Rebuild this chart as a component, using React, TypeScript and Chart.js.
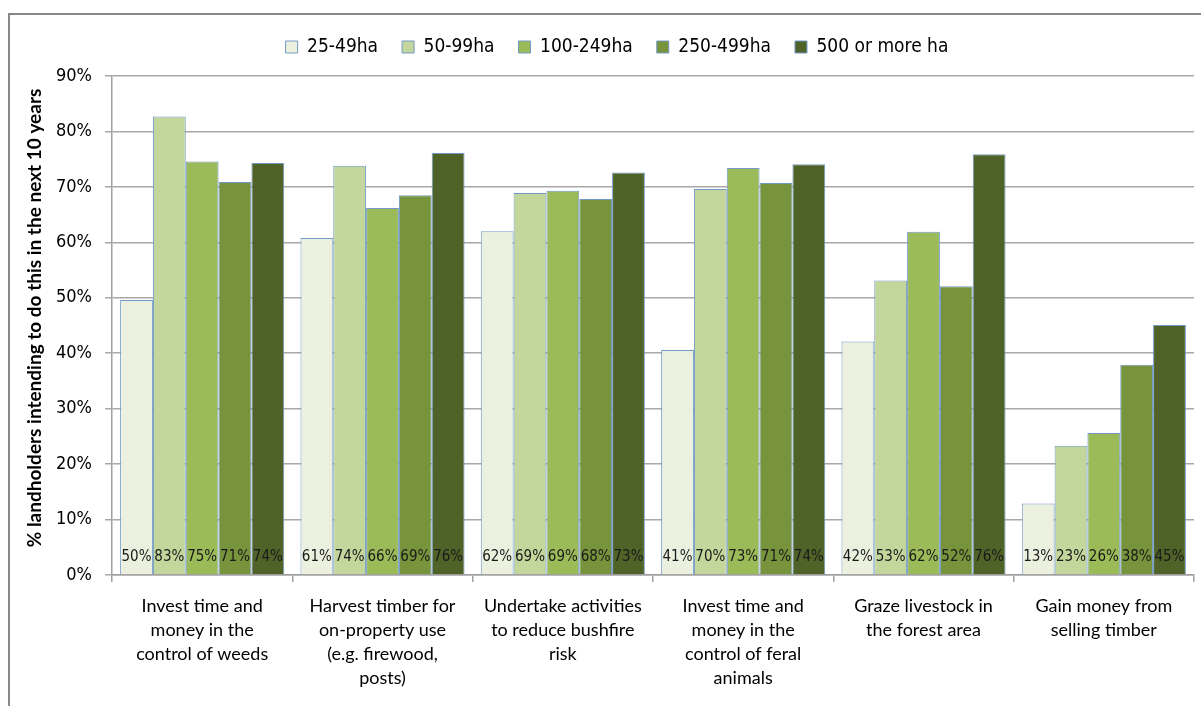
import React, { useEffect, useRef } from "react";
import { Chart, registerables } from "chart.js";

Chart.register(...registerables);

const categories: string[][] = [
  ["Invest time and", "money in the", "control of weeds"],
  ["Harvest timber for", "on-property use", "(e.g. firewood,", "posts)"],
  ["Undertake activities", "to reduce bushfire", "risk"],
  ["Invest time and", "money in the", "control of feral", "animals"],
  ["Graze livestock in", "the forest area"],
  ["Gain money from", "selling timber"],
];

const seriesNames = ["25-49ha", "50-99ha", "100-249ha", "250-499ha", "500 or more ha"];

const ha25to49 = [49.6, 60.8, 62.0, 40.6, 42.1, 12.9];
const ha50to99 = [82.7, 73.8, 68.9, 69.6, 53.1, 23.3];
const ha100to249 = [74.6, 66.2, 69.3, 73.4, 61.9, 25.6];
const ha250to499 = [70.9, 68.5, 67.8, 70.7, 52.1, 37.9];
const ha500plus = [74.3, 76.1, 72.6, 74.1, 75.9, 45.1];

const seriesColors = ["#EBF1DE", "#C3D69B", "#9BBB59", "#77933C", "#4F6228"];

const yMin = 0;
const yMax = 90;
const yStep = 10;

const yTitle = "% landholders intending to do this in the next 10 years";

const COND = "'DejaVu Sans Condensed', 'DejaVu Sans', sans-serif";

const barLabelPlugin = {
  id: "barLabels",
  afterDatasetsDraw(chart: any) {
    const { ctx, chartArea } = chart;
    ctx.save();
    ctx.font = `15px ${COND}`;
    ctx.fillStyle = "#1a1a1a";
    ctx.textAlign = "center";
    ctx.textBaseline = "middle";
    chart.data.datasets.forEach((ds: any, di: number) => {
      const meta = chart.getDatasetMeta(di);
      meta.data.forEach((el: any, i: number) => {
        const v = ds.data[i] as number;
        ctx.fillText(Math.round(v) + "%", el.x, chartArea.bottom - 18);
      });
    });
    ctx.restore();
  },
};

const yTitlePlugin = {
  id: "yTitleCustom",
  afterDraw(chart: any) {
    const { ctx } = chart;
    ctx.save();
    ctx.translate(35, 318);
    ctx.rotate(-Math.PI / 2);
    ctx.font = "bold 19px Lato, sans-serif";
    ctx.fillStyle = "#000";
    ctx.textAlign = "center";
    ctx.textBaseline = "middle";
    ctx.fillText(yTitle, 0, 0);
    ctx.restore();
  },
};

// shift the legend row so that it sits where the original one does
const legendShiftPlugin = {
  id: "legendShift",
  afterLayout(chart: any) {
    const lg = chart.legend;
    if (lg) {
      lg.left += 20;
      lg.right += 20;
    }
  },
};

export default function App() {
  const canvasRef = useRef<HTMLCanvasElement | null>(null);

  useEffect(() => {
    if (!canvasRef.current) return;
    const seriesData = [ha25to49, ha50to99, ha100to249, ha250to499, ha500plus];
    const chart = new Chart(canvasRef.current, {
      type: "bar",
      data: {
        labels: categories,
        datasets: seriesNames.map((name, i) => ({
          label: name,
          data: seriesData[i],
          backgroundColor: seriesColors[i],
          borderColor: "#7399c6",
          borderWidth: 1,
          categoryPercentage: 0.91,
          barPercentage: 1,
        })),
      },
      options: {
        responsive: false,
        animation: false,
        layout: { padding: { left: 0, right: 7, top: 13.5, bottom: 0 } },
        plugins: {
          legend: {
            display: true,
            position: "top",
            weight: 1000,
            labels: {
              boxWidth: 12,
              boxHeight: 12,
              padding: 24,
              color: "#000",
              font: { size: 19, family: COND },
            },
          },
          title: {
            display: true,
            text: "",
            weight: 500,
            font: { size: 1 },
            padding: { top: 0, bottom: 8.3 },
          },
          tooltip: { enabled: false },
        },
        scales: {
          x: {
            grid: {
              display: true,
              drawOnChartArea: false,
              drawTicks: true,
              tickLength: 7,
              color: "#a0a0a0",
              lineWidth: 1.5,
              offset: true,
            },
            border: { display: true, color: "#a0a0a0", width: 1.5 },
            ticks: {
              autoSkip: false,
              maxRotation: 0,
              minRotation: 0,
              padding: 12,
              color: "#000",
              font: { size: 18, family: "Lato, sans-serif", lineHeight: 24 / 18 },
            },
            afterFit: (scale: any) => {
              scale.height = 131;
            },
          },
          y: {
            min: yMin,
            max: yMax,
            grid: {
              color: "#a8a8a8",
              lineWidth: 1.5,
              tickLength: 7,
              drawTicks: true,
            },
            border: { display: true, color: "#a0a0a0", width: 1.5 },
            ticks: {
              stepSize: yStep,
              padding: 13,
              color: "#000",
              font: { size: 18, family: COND },
              callback: (v: any) => v + "%",
            },
            afterFit: (scale: any) => {
              scale.width = 112;
            },
          },
        },
      },
      plugins: [barLabelPlugin, yTitlePlugin, legendShiftPlugin],
    } as any);
    return () => chart.destroy();
  }, []);

  return (
    <div style={{ position: "absolute", left: 0, top: 0, width: 1201, height: 706, background: "#fff", overflow: "hidden" }}>
      <div
        style={{
          position: "absolute",
          left: 8,
          top: 13,
          width: 1210,
          height: 720,
          borderLeft: "2px solid #888",
          borderTop: "2px solid #888",
        }}
      />
      <canvas
        ref={canvasRef}
        width={1201}
        height={706}
        style={{ position: "absolute", left: 0, top: 0, display: "block" }}
      />
    </div>
  );
}
